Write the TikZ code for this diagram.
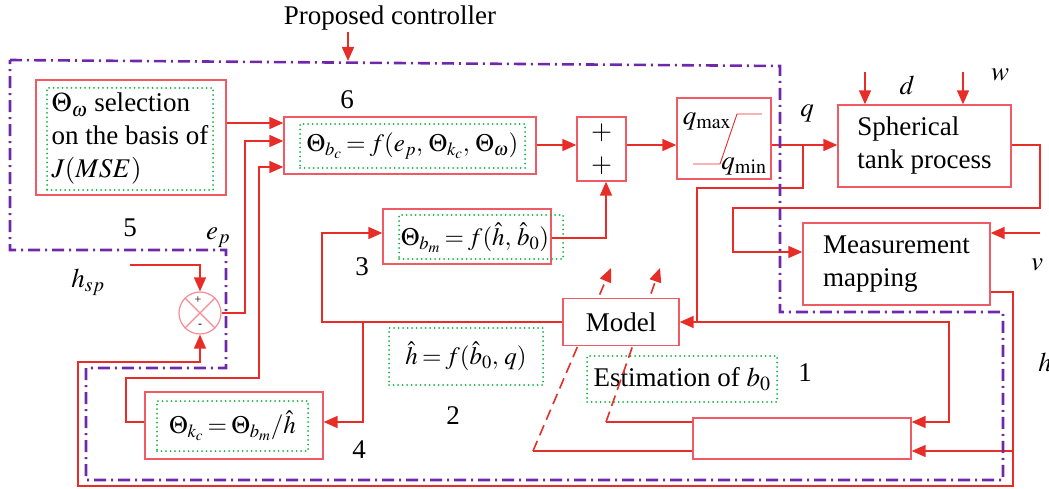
\documentclass[tikz,border=0pt]{standalone}
\usepackage{mathptmx}
\usepackage{fontspec}
\setmainfont{Liberation Serif}
\usetikzlibrary{arrows.meta, positioning}

\definecolor{linered}{RGB}{230,45,40}
\definecolor{boxred}{RGB}{240,90,100}
\definecolor{dotgreen}{RGB}{20,180,70}
\definecolor{ctrlpurple}{RGB}{112,40,170}
\definecolor{junctionpink}{RGB}{245,140,150}
\thickmuskip=3mu plus 1mu

\begin{document}
\begin{tikzpicture}
[x=1pt, y=-1pt,
 >={Triangle[length=14pt, width=12pt]},
 every node/.style={font=\fontsize{27}{33}\selectfont, inner sep=0pt},
 block/.style={draw=boxred, line width=1.3pt},
 inner/.style={draw=dotgreen, line width=2pt, dash pattern=on 0pt off 4.5pt, line cap=round},
 formula/.style={inner, font=\fontsize{25}{30}\selectfont},
 wire/.style={draw=linered, line width=1.6pt},
 flow/.style={wire, ->},
 adapt/.style={flow, dash pattern=on 11pt off 6pt},
 border/.style={draw=ctrlpurple, line width=2.6pt, dash pattern=on 12pt off 5pt on 2pt off 5pt},
 junction/.style={circle, draw=junctionpink, line width=1.2pt, minimum size=42pt},
 sign/.style={font=\fontsize{12}{12}\selectfont}
]
\useasboundingbox (0,0) rectangle (1049,489);

% blocks
\node[block, minimum width=190pt, minimum height=115pt] (selbox) at (131,137.5) {};
\node[inner, minimum width=166pt, minimum height=102pt, align=left] (seltext) at (130,139) {$\Theta_\omega$ selection\\on the basis of\\$J(MSE)$};
\node[block, minimum width=252pt, minimum height=57pt] (ctrlbox) at (410,145.5) {};
\node[formula, minimum width=225pt, minimum height=44pt] (ctrltext) at (412.5,146) {$\Theta_{b_c} = f(e_p,\, \Theta_{k_c},\, \Theta_\omega)$};
\node[block, minimum width=49pt, minimum height=64pt, align=center] (sumbox) at (601.5,149) {$+$\\$+$};
\node[block, minimum width=94pt, minimum height=81pt] (satbox) at (724,138.5) {};
\node (qmax) at (707,121) {$q_{\max}$};
\node (qmin) at (744,166) {$q_{\min}$};
\node[block, minimum width=173pt, minimum height=82pt, align=left] (tankbox) at (924.5,146) {Spherical\\tank process};
\node[block, minimum width=187pt, minimum height=82pt, align=left] (measbox) at (896.5,264) {Measurement\\mapping};
\node[block, minimum width=168pt, minimum height=55pt] (bmbox) at (467,236.5) {};
\node[inner, minimum width=164pt, minimum height=44pt] (bmbox2) at (481,237) {};
\node[font=\fontsize{25}{30}\selectfont] (bmtext) at (475,238) {$\Theta_{b_m} = f(\hat{h},\, \hat{b}_0)$};
\node[formula, minimum width=154pt, minimum height=57pt] (hhattext) at (466,356.5) {$\hat{h} = f(\hat{b}_0,\, q)$};
\node[inner, minimum width=190pt, minimum height=46pt] (esttext) at (682,379) {Estimation of $b_0$};
\node[block, minimum width=218pt, minimum height=41pt] (adaptbox) at (802,438.5) {};
\node[block, minimum width=178pt, minimum height=67pt] (kcbox) at (234,425.5) {};
\node[formula, minimum width=151pt, minimum height=50pt] (kctext) at (232.5,426) {$\Theta_{k_c} = \Theta_{b_m}/\hat{h}$};
\node[junction] (sumjn) at (200,313) {};
\draw[junctionpink, line width=1.2pt] (sumjn.north east) -- (sumjn.south west) (sumjn.north west) -- (sumjn.south east);
\node[sign] (plus) at (198,300) {+};
\node[sign] (minus) at (200,326) {-};

% adaptation arrows run under the model block
\draw[wire] (adaptbox.west |- 0,422) -- (606,422);
\draw[adapt] (606,422) -- (660,268);
\draw[wire] (adaptbox.west |- 0,451) -- (533,451);
\draw[adapt] (533,451) -- (611,268);
\node[block, fill=white, minimum width=116pt, minimum height=47pt] (modelbox) at (621,322) {Model};

% labels
\node (title) at (390,18) {Proposed controller};
\node (lbl1) at (805,373) {1};
\node (lbl2) at (453,416) {2};
\node (lbl3) at (362,267) {3};
\node (lbl4) at (359,450) {4};
\node (lbl5) at (130,228) {5};
\node (lbl6) at (347,100) {6};
\node (lblep) at (218,238) {$e_p$};
\node (lblhsp) at (88,282) {$h_{sp}$};
\node (lblq) at (807,113) {$q$};
\node (lbld) at (907,85) {$d$};
\node (lblw) at (1000,75) {$w$};
\node (lblv) at (1037,265) {$v$};
\node (lblh) at (1045,362) {$h$};

\coordinate (propin) at (348,32);
\coordinate (hsp) at (130,265);
\coordinate (vin) at (1040,233);
\coordinate (din) at (865,72);
\coordinate (win) at (963,72);

% forward path
\draw[flow] (propin) -- ++(0,29);
\draw[flow] (selbox.east |- 0,123) -- (ctrlbox.west |- 0,123);
\draw[flow] (sumjn.east) -| (245,141) -- (ctrlbox.west |- 0,141);
\draw[flow] (kcbox.west |- 0,422) -- (126,422) |- (259,378) -- (259,167) -- (ctrlbox.west |- 0,167);
\draw[flow] (ctrlbox.east |- 0,145) -- (sumbox.west |- 0,145);
\draw[flow] (sumbox.east |- 0,145) -- (satbox.west |- 0,145);
\draw[flow] (satbox.east |- 0,145) -- (tankbox.west |- 0,145);
\draw[wire, line width=0.9pt] ([shift={(-31,25.5)}]satbox.center) -- ++(27,0) -- ++(17,-50) -- ++(25,0);
\draw[flow] (bmbox.east |- 0,238) -| ([xshift=4.5pt]sumbox.south);
\draw[flow] (din) -- (din |- tankbox.north);
\draw[flow] (win) -- (win |- tankbox.north);
\draw[flow] (tankbox.east |- 0,145) -| (1040,208) -| (733,252) -- (measbox.west |- 0,252);
\draw[flow] (vin) -- (measbox.east |- vin);

% feedback
\draw[flow] (hsp) -| (sumjn.north);
\draw[flow] (measbox.east |- 0,292) -| (1013,486) -| (78,362) -| (sumjn.south);
\draw[flow] (1013,451) -- (adaptbox.east |- 0,451);
\draw[wire] (803,145) |- (697,188) -- (697,322);
\draw[flow] (697,322) -- (modelbox.east);
\draw[flow] (697,322) -| (949,422) -- (adaptbox.east |- 0,422);
\draw[flow] (modelbox.west) -| (322,233) -- (bmbox.west |- 0,233);
\draw[flow] (363,322) |- (kcbox.east |- 0,422);

% controller boundary
\draw[border] (10,60) -- (780,66) -- (780,312) -- (1003,312) -- (1003,480) -- (86,480) -- (86,368) -- (226,368) -- (226,250) -- (10,250) -- cycle;
\end{tikzpicture}
\end{document}
